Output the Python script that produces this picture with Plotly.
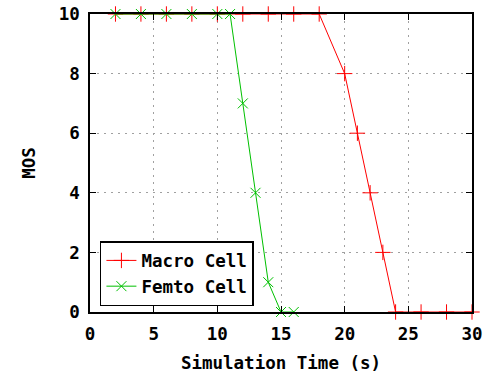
import plotly.graph_objects as go

macro_x = [2, 4, 6, 8, 10, 12, 14, 16, 18, 20, 21, 22, 23, 24, 26, 28, 30]
macro_y = [10, 10, 10, 10, 10, 10, 10, 10, 10, 8, 6, 4, 2, 0, 0, 0, 0]
femto_x = [2, 4, 6, 8, 10, 11, 12, 13, 14, 15, 16]
femto_y = [10, 10, 10, 10, 10, 10, 7, 4, 1, 0, 0]

x_ticks = [0, 5, 10, 15, 20, 25, 30]
y_ticks = [0, 2, 4, 6, 8, 10]

FONT = dict(family="DejaVu Sans Mono", size=17.5, color="black", weight="bold")

fig = go.Figure()
fig.add_trace(go.Scatter(
    x=macro_x, y=macro_y, mode="lines+markers", name="Macro Cell",
    line=dict(color="#ff0000", width=1),
    marker=dict(symbol="cross-thin", size=11, line=dict(color="#ff0000", width=1), color="#ff0000"),
    cliponaxis=False,
))
fig.add_trace(go.Scatter(
    x=femto_x, y=femto_y, mode="lines+markers", name="Femto Cell",
    line=dict(color="#00c000", width=1),
    marker=dict(symbol="x-thin", size=10, line=dict(color="#00c000", width=1), color="#00c000"),
    cliponaxis=False,
))

axis_common = dict(
    showline=True, linecolor="black", linewidth=1.5, mirror="allticks",
    ticks="inside", ticklen=6, tickwidth=1.2, tickcolor="black",
    showgrid=True, gridcolor="#a0a0a0", griddash="2px,5px", gridwidth=1,
    zeroline=False, tickfont=FONT, automargin=False,
)

fig.update_xaxes(range=[0, 30], tickvals=x_ticks, ticktext=[str(v) for v in x_ticks],
                 ticklabelstandoff=5,
                 title=dict(text="Simulation Time (s)", font=FONT, standoff=25), **axis_common)
fig.update_yaxes(range=[0, 10], tickvals=y_ticks, ticktext=[str(v) for v in y_ticks],
                 ticklabelstandoff=5,
                 title=dict(text="MOS", font=FONT, standoff=19), **axis_common)

fig.update_layout(
    width=497, height=373,
    margin=dict(l=90, r=25, t=14, b=61, autoexpand=False),
    plot_bgcolor="white", paper_bgcolor="white",
    font=FONT,
    legend=dict(x=0.026, y=0.02, xanchor="left", yanchor="bottom",
                bgcolor="white", bordercolor="black", borderwidth=1.5,
                font=FONT, tracegroupgap=0, itemwidth=30),
)

fig.write_html("out.html", config={"displayModeBar": False},
               post_script="document.body.style.margin='0';document.body.style.overflow='hidden';")
